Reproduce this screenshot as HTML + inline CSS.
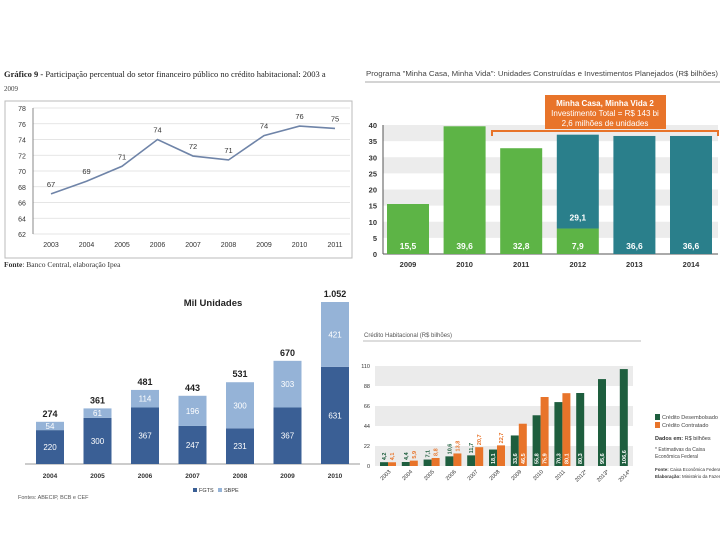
<!DOCTYPE html>
<html><head><meta charset="utf-8">
<style>
html,body{margin:0;padding:0;background:#fff;}
svg{display:block;font-family:"Liberation Sans",sans-serif;}
</style></head>
<body>
<svg id="s" width="720" height="540" viewBox="0 0 720 540" xmlns="http://www.w3.org/2000/svg">
  <text x="4" y="77" font-family="Liberation Serif" font-size="8.5" fill="#222"><tspan font-weight="bold">Gráfico 9 -</tspan> Participação percentual do setor financeiro público no crédito habitacional: 2003 a</text>
  <text x="4" y="91" font-family="Liberation Serif" font-size="7" fill="#444">2009</text>
  <rect x="5" y="101" width="347" height="157" fill="#fff" stroke="#bbb"/>
  <g id="c1"></g>
  <text x="4" y="267" font-family="Liberation Serif" font-size="7.5" fill="#333"><tspan font-weight="bold">Fonte</tspan>: Banco Central, elaboração Ipea</text>

  <text x="366" y="76" font-size="7.6" fill="#444" textLength="352" lengthAdjust="spacingAndGlyphs">Programa "Minha Casa, Minha Vida": Unidades Construídas e Investimentos Planejados (R$ bilhões)</text>
  <line x1="365" y1="82" x2="720" y2="82" stroke="#aaa"/>
  <g id="c2"></g>
  <path d="M492,136 L492,131 L718,131 L718,136" fill="none" stroke="#e8742a" stroke-width="2"/>
  <rect x="545" y="95" width="121" height="34" fill="#e8742a"/>
  <text x="605" y="106" font-size="8" font-weight="bold" fill="#fff" text-anchor="middle">Minha Casa, Minha Vida 2</text>
  <text x="605" y="116" font-size="8" fill="#fff" text-anchor="middle">Investimento Total = R$ 143 bi</text>
  <text x="605" y="126" font-size="8" fill="#fff" text-anchor="middle">2,6 milhões de unidades</text>

  <text x="213" y="306" font-size="9.5" font-weight="bold" fill="#222" text-anchor="middle">Mil Unidades</text>
  <g id="c3"></g>
  <rect x="193" y="488" width="4" height="4" fill="#3a5f95"/>
  <text x="199" y="492" font-size="5.5" fill="#333">FGTS</text>
  <rect x="218" y="488" width="4" height="4" fill="#95b3d7"/>
  <text x="224" y="492" font-size="5.5" fill="#333">SBPE</text>
  <text x="18" y="499" font-size="5.5" fill="#555">Fontes: ABECIP, BCB e CEF</text>

  <text x="364" y="337" font-size="6" fill="#555">Crédito Habitacional (R$ bilhões)</text>
  <line x1="363" y1="341" x2="641" y2="341" stroke="#bbb"/>
  <g id="c4"></g>
  <rect x="655" y="414" width="5" height="6" fill="#1e5e3e"/>
  <text x="662" y="419" font-size="5.5" fill="#444">Crédito Desembolsado</text>
  <rect x="655" y="422" width="5" height="6" fill="#e8742a"/>
  <text x="662" y="427" font-size="5.5" fill="#444">Crédito Contratado</text>
  <text x="655" y="440" font-size="5.5" fill="#333"><tspan font-weight="bold">Dados em:</tspan> R$ bilhões</text>
  <text x="655" y="451" font-size="5" fill="#444">* Estimativas da Caixa</text>
  <text x="655" y="458" font-size="5" fill="#444">Econômica Federal</text>
  <text x="655" y="471" font-size="4.5" fill="#333"><tspan font-weight="bold">Fonte:</tspan> Caixa Econômica Federal</text>
  <text x="655" y="478" font-size="4.5" fill="#333"><tspan font-weight="bold">Elaboração:</tspan> Ministério da Fazenda</text>
</svg>
<script>
var c1Years=["2003","2004","2005","2006","2007","2008","2009","2010","2011"];
var c1Values=[67.1,68.7,70.6,74.0,71.9,71.4,74.5,75.7,75.4];
var c1Labels=["67","69","71","74","72","71","74","76","75"];
var c1Ticks=[62,64,66,68,70,72,74,76,78];

var c2Years=["2009","2010","2011","2012","2013","2014"];
var c2Green=[15.5,39.6,32.8,7.9,0,0];
var c2Teal=[0,0,0,29.1,36.6,36.6];
var c2Ticks=[0,5,10,15,20,25,30,35,40];

var c3Years=["2004","2005","2006","2007","2008","2009","2010"];
var c3Fgts=[220,300,367,247,231,367,631];
var c3Sbpe=[54,61,114,196,300,303,421];
var c3Totals=["274","361","481","443","531","670","1.052"];

var c4Years=["2003","2004","2005","2006","2007","2008","2009","2010","2011","2012*","2013*","2014*"];
var c4Desemb=[4.2,4.4,7.1,10.6,11.7,18.1,33.6,55.8,70.3,80.3,95.6,106.6];
var c4Contr=[4.1,5.9,8.8,13.8,20.7,22.7,46.5,75.9,80.1,null,null,null];
var c4Ticks=[0,22,44,66,88,110];

var NS="http://www.w3.org/2000/svg";
function mk(p,t,a,txt){var e=document.createElementNS(NS,t);for(var k in a)e.setAttribute(k,a[k]);if(txt!==undefined)e.textContent=txt;p.appendChild(e);return e;}
function fmt(v){return v.toFixed(1).replace('.',',');}

(function(){
var g=document.getElementById('c1');
function y(v){return 234-(v-62)*(126/16);}
function x(i){return 51+i*35.5;}
c1Ticks.forEach(function(t){
 var l=mk(g,'line',{x1:33,x2:350,y1:y(t),y2:y(t),stroke:'#ddd','stroke-width':0.8});
 
 
 var tx=mk(g,'text',{x:22,y:y(t)+3,'font-size':7,fill:'#333','text-anchor':'middle'},String(t));
 
 
});
var ax=mk(g,'line',{x1:33,x2:33,y1:y(78),y2:y(62),stroke:'#888'});


var pts=c1Values.map(function(v,i){return x(i)+','+y(v);}).join(' ');
var pl=mk(g,'polyline',{points:pts,fill:'none',stroke:'#6f84a8','stroke-width':1.6});


c1Years.forEach(function(yr,i){
 var t=mk(g,'text',{x:x(i),y:247,'font-size':7,fill:'#333','text-anchor':'middle'},yr);
 
 
 var lb=mk(g,'text',{x:x(i),y:y(c1Values[i])-7,'font-size':7.5,fill:'#333','text-anchor':'middle'},c1Labels[i]);
 
 
});
})();

(function(){
var g=document.getElementById('c2');
function y(v){return 254-v*(129/40);}
function x(i){return 408+i*56.6;}
for(var k=0;k<8;k++){ if(k%2===1){var r=mk(g,'rect',{x:383,y:y((k+1)*5),width:335,height:129/8,fill:'#ececec'});
 
 }}
c2Ticks.forEach(function(t){
 var tx=mk(g,'text',{x:377,y:y(t)+3,'font-size':7.5,'font-weight':'bold',fill:'#333','text-anchor':'end'},String(t));
 
 
});
var ax=mk(g,'line',{x1:383,x2:383,y1:y(40),y2:y(0),stroke:'#555'});


var bx=mk(g,'line',{x1:383,x2:718,y1:y(0),y2:y(0),stroke:'#555'});


c2Years.forEach(function(yr,i){
 var cx=x(i),w=42;
 if(c2Green[i]>0){var b=mk(g,'rect',{x:cx-w/2,y:y(c2Green[i]),width:w,height:y(0)-y(c2Green[i]),fill:'#5db446'});
  
  }
 if(c2Teal[i]>0){var base=c2Green[i];var b2=mk(g,'rect',{x:cx-w/2,y:y(base+c2Teal[i]),width:w,height:y(base)-y(base+c2Teal[i]),fill:'#2a7f8b'});
  
  }
 var val,vy=y(0)-8;
 if(c2Green[i]>0){val=fmt(c2Green[i]);}else{val=fmt(c2Teal[i]);}
 var lb=mk(g,'text',{x:cx,y:vy+3,'font-size':8.5,'font-weight':'bold',fill:'#fff','text-anchor':'middle'},val);
 
 
 if(c2Green[i]>0&&c2Teal[i]>0){var lb2=mk(g,'text',{x:cx,y:y(c2Green[i])-8,'font-size':8.5,'font-weight':'bold',fill:'#fff','text-anchor':'middle'},fmt(c2Teal[i]));
  
  }
 var t=mk(g,'text',{x:cx,y:267,'font-size':7.5,'font-weight':'bold',fill:'#333','text-anchor':'middle'},yr);
 
 
});
})();

(function(){
var g=document.getElementById('c3');
function y(v){return 464-v*(162/1052);}
function x(i){return 50+i*47.5;}
var ax=mk(g,'line',{x1:25,x2:360,y1:464,y2:464,stroke:'#999'});


c3Years.forEach(function(yr,i){
 var cx=x(i),w=28,f=c3Fgts[i],s=c3Sbpe[i];
 var b=mk(g,'rect',{x:cx-w/2,y:y(f),width:w,height:y(0)-y(f),fill:'#3a5f95'});
 
 
 var b2=mk(g,'rect',{x:cx-w/2,y:y(f+s),width:w,height:y(f)-y(f+s),fill:'#95b3d7'});
 
 
 var l1=mk(g,'text',{x:cx,y:(y(f)+y(0))/2+3,'font-size':8,fill:'#fff','text-anchor':'middle'},String(f));
 
 
 var l2=mk(g,'text',{x:cx,y:(y(f)+y(f+s))/2+3,'font-size':8,fill:'#fff','text-anchor':'middle'},String(s));
 
 
 var l3=mk(g,'text',{x:cx,y:y(f+s)-5,'font-size':9,'font-weight':'bold',fill:'#222','text-anchor':'middle'},c3Totals[i]);
 
 
 var t=mk(g,'text',{x:cx,y:478,'font-size':6.5,'font-weight':'bold',fill:'#333','text-anchor':'middle'},yr);
 
 
});
})();

(function(){
var g=document.getElementById('c4');
function y(v){return 466-v*(100/110);}
function x(i){return 388+i*21.8;}
for(var k=0;k<5;k++){ if(k%2===0){var r=mk(g,'rect',{x:375,y:y(c4Ticks[k+1]),width:258,height:y(c4Ticks[k])-y(c4Ticks[k+1]),fill:'#ebebeb'});
 
 }}
c4Ticks.forEach(function(t){
 var tx=mk(g,'text',{x:370,y:y(t)+2,'font-size':5.5,fill:'#333','text-anchor':'end'},String(t));
 
 
});
c4Years.forEach(function(yr,i){
 var cx=x(i),w=8,d=c4Desemb[i],c=c4Contr[i];
 var b=mk(g,'rect',{x:cx-w,y:y(d),width:w,height:y(0)-y(d),fill:'#1e5e3e'});
 
 
 var lb=mk(g,'text',{x:0,y:0,'font-size':5.5,'font-weight':'bold',fill:(d>15?'#fff':'#1e5e3e'),transform:'translate('+(cx-w/2+2)+','+(d>15?y(0)-2:y(d)-2)+') rotate(-90)'},fmt(d));
 
 
 if(c!==null){
  var b2=mk(g,'rect',{x:cx,y:y(c),width:w,height:y(0)-y(c),fill:'#e8742a'});
  
  
  var lb2=mk(g,'text',{x:0,y:0,'font-size':5.5,'font-weight':'bold',fill:(c>30?'#fff':'#e8742a'),transform:'translate('+(cx+w/2+2)+','+(c>30?y(0)-2:y(c)-2)+') rotate(-90)'},fmt(c));
  
  
 }
 var t=mk(g,'text',{x:0,y:0,'font-size':5.5,fill:'#333','text-anchor':'end',transform:'translate('+(cx+3)+',472) rotate(-45)'},yr);
 
 
});
})();
</script>
</body></html>
